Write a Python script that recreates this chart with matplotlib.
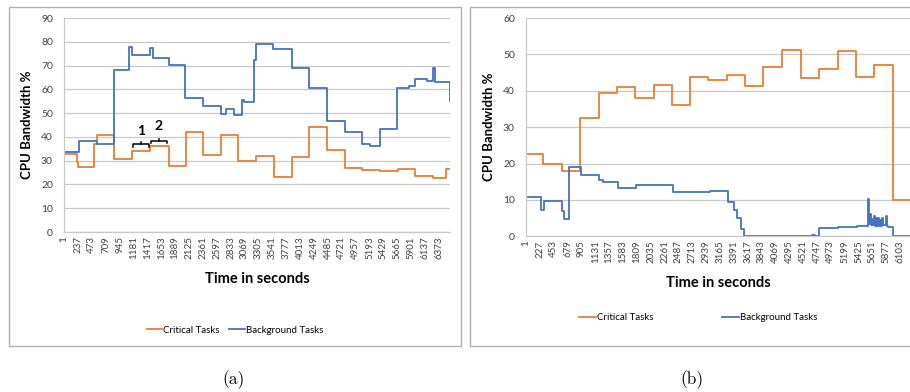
import numpy as np
import matplotlib
matplotlib.use("Agg")
import matplotlib.pyplot as plt
from matplotlib.patches import Rectangle

plt.rcParams['font.family'] = ['Lato', 'DejaVu Sans']

ORANGE = "#ED7D31"
BLUE = "#4472C4"
GRID = "#c8c8c8"

# ---- panel (a) data: step start times and values ----
a_crit_t = [1, 222, 240, 507, 564, 855, 1162, 1464, 1778, 2074, 2359, 2661, 2963,
            3259, 3573, 3869, 4171, 4467, 4769, 5071, 5368, 5681, 5966, 6279, 6496]
a_crit_v = [33, 29.5, 27.5, 37, 40.7, 30.8, 34.2, 36.3, 27.9, 42.2, 32.5, 40.7, 29.8,
            31.8, 23.3, 31.5, 44, 34.5, 26.8, 26, 25.6, 26.6, 23.4, 22.9, 26.5]
a_back_t = [1, 256, 564, 855, 1105, 1150, 1464, 1521, 1778, 2063, 2359, 2661, 2746,
            2889, 3031, 3060, 3231, 3270, 3556, 3869, 4171, 4467, 4769, 5071, 5208,
            5379, 5652, 5869, 5966, 6165, 6279, 6307, 6553]
a_back_v = [33.5, 38.2, 37, 68, 78, 74.4, 77.5, 73.1, 70.1, 56.5, 52.8, 49.8, 51.6,
            49, 55.5, 54.5, 72.5, 79, 76.9, 69.1, 60.5, 46.5, 42.2, 37, 36.2,
            43.2, 60.5, 61.2, 64.2, 63.5, 68.8, 63.2, 55]
a_end = 6560
a_ticks = list(range(1, 6374, 236))

# ---- panel (b) data ----
b_crit_t = [1, 277, 587, 886, 1185, 1484, 1783, 2082, 2380, 2679, 2978, 3277, 3576,
            3875, 4174, 4484, 4783, 5087, 5386, 5685, 5984]
b_crit_v = [22.5, 20, 17.9, 32.5, 39.3, 41, 38.1, 41.7, 36.2, 43.7, 42.9, 44.4, 41.2,
            46.6, 51.2, 43.6, 46, 50.9, 43.8, 47, 10]
b_back_t = [1, 6, 250, 288, 587, 614, 696, 902, 1196, 1255, 1495, 1793, 2092, 2397,
            2995, 3293, 3386, 3440, 3505, 3549, 4663, 4717, 4788, 5098, 5397,
            5587, 5594, 5615, 5630, 5648, 5660, 5672, 5690, 5710, 5725, 5745, 5760,
            5780, 5795, 5815, 5830, 5870, 5890, 5913, 5995]
b_back_v = [2.5, 10.7, 7.3, 9.8, 7, 4.7, 19, 16.9, 15.5, 15, 13.4, 14.2, 14, 12.1,
            12.4, 9.3, 7.3, 5, 2, 0, 0.3, 0, 2.4, 2.6, 2.9,
            10.3, 3.5, 6, 3, 4.8, 3, 5.5, 2.8, 5, 2.8, 5, 2.8,
            4.6, 2.8, 5, 3, 5.5, 2.8, 2.5, 0]
b_end = 6265
b_ticks = list(range(1, 6104, 226))

W, H = 910, 392
fig = plt.figure(figsize=(W / 100, H / 100), dpi=100)


def px(l, t, r, b):
    return [l / W, 1 - b / H, (r - l) / W, (b - t) / H]


def step(ax, t, v, end, color):
    tt = list(t) + [end]
    vv = list(v) + [v[-1]]
    ax.step(tt, vv, where="post", color=color, lw=1.3)


def style(ax, ymax, ystep, ticks, xmax):
    ax.set_xlim(1, xmax)
    ax.set_ylim(0, ymax)
    ax.set_yticks(np.arange(0, ymax + 1, ystep))
    ax.set_xticks(ticks)
    ax.set_xticklabels([str(t) for t in ticks], rotation=90, fontsize=7, color="#404040")
    ax.tick_params(axis="y", labelsize=7.5, labelcolor="#404040", length=0, pad=8)
    ax.tick_params(axis="x", length=0, pad=3)
    ax.grid(axis="y", color=GRID, lw=0.9)
    ax.set_axisbelow(True)
    for s in ["top", "right"]:
        ax.spines[s].set_visible(False)
    for s in ["left", "bottom"]:
        ax.spines[s].set_color(GRID)
        ax.spines[s].set_linewidth(0.9)
    ax.set_ylabel("CPU Bandwidth %", fontsize=9.5, fontweight="bold", labelpad=6)
    ax.set_xlabel("Time in seconds", fontsize=10.5, fontweight="bold", labelpad=9)


# borders of the two panels
fig.patches.append(Rectangle((9 / W, 1 - 346 / H), 452 / W, 339 / H,
                             transform=fig.transFigure, fill=False, ec="#b0b0b0", lw=1))
fig.patches.append(Rectangle((470 / W, 1 - 346 / H), 460 / W, 339 / H,
                             transform=fig.transFigure, fill=False, ec="#b0b0b0", lw=1))

# (a)
ax1 = fig.add_axes(px(64, 18, 450, 232))
step(ax1, a_crit_t, a_crit_v, a_end, ORANGE)
step(ax1, a_back_t, a_back_v, a_end, BLUE)
style(ax1, 90, 10, a_ticks, a_end)
ax1.lines[0].set_label("Critical Tasks")
ax1.lines[1].set_label("Background Tasks")
ax1.legend(loc="center", bbox_to_anchor=(0.443, -0.458), ncol=2, frameon=False,
           fontsize=7, handlelength=1.6, handletextpad=0.1, columnspacing=1.0)

# braces marking periods 1 and 2
braces = [(1168, 1453, 36.9, "1", 42.5), (1476, 1750, 38.3, "2", 44.4)]
for x0, x1, yb, lab, ylab in braces:
    xm = (x0 + x1) / 2
    ax1.plot([x0, x0, x1, x1], [yb - 1.0, yb, yb, yb - 1.0], color="black", lw=1.1)
    ax1.plot([xm, xm], [yb, yb + 1.0], color="black", lw=1.1)
    ax1.text(xm, ylab, lab, ha="center", va="center", fontsize=10, fontweight="bold")

# (b)
ax2 = fig.add_axes(px(526, 18, 910, 236.3))
step(ax2, b_crit_t, b_crit_v, b_end, ORANGE)
step(ax2, b_back_t, b_back_v, b_end, BLUE)
style(ax2, 60, 10, b_ticks, b_end)
ax2.lines[0].set_label("Critical Tasks")
ax2.lines[1].set_label("Background Tasks")
ax2.legend(loc="center", bbox_to_anchor=(0.448, -0.373), ncol=2, frameon=False,
           fontsize=7, handlelength=1.8, handletextpad=0.1, columnspacing=7.0)

fig.text(234 / W, 1 - 380 / H, "(a)", family="cmr10", fontsize=12.5, ha="center", va="center")
fig.text(692 / W, 1 - 380 / H, "(b)", family="cmr10", fontsize=12.5, ha="center", va="center")

fig.savefig("out.png", dpi=100)
